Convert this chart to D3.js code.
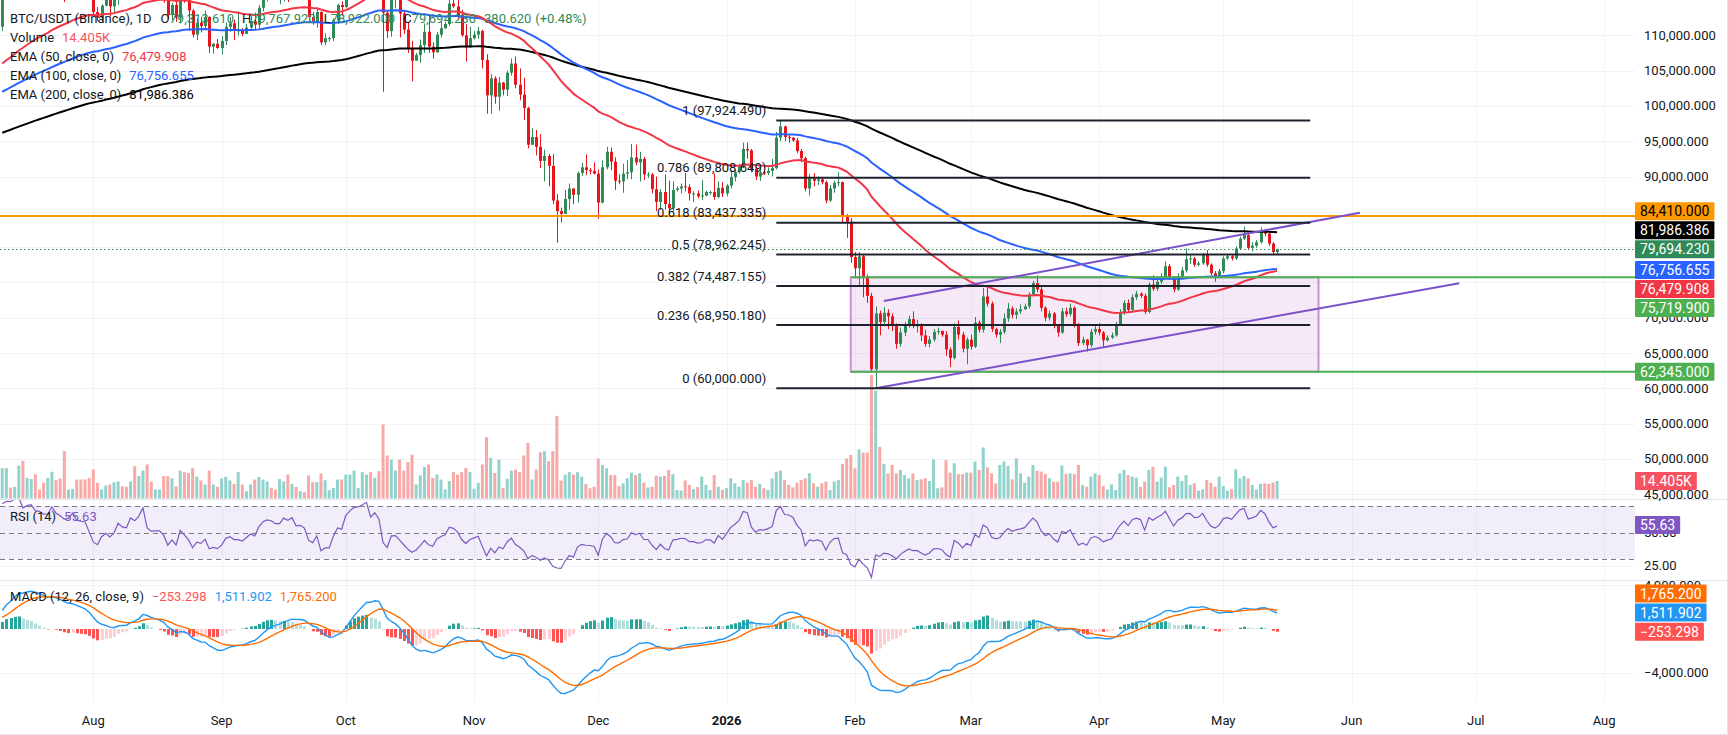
<!DOCTYPE html>
<html>
<head>
<meta charset="utf-8">
<script src="https://cdn.jsdelivr.net/npm/d3@7"></script>
<style>
  html, body { margin: 0; padding: 0; background: #fff; }
  svg { display: block; font-family: Roboto, "Noto Sans", sans-serif; }
</style>
</head>
<body>
<svg id="chart"></svg>
<script>
// daily BTC/USDT candles, 2025-07-10 .. 2026-05-14, prices in thousands
var startDay = '2025-07-10';
var firstOpen = 111.23;
var closes = [
  116.0,117.5,117.4,119.1,119.8,117.7,118.8,119.3,118.0,117.9,117.3,117.4,120.0,118.8,118.3,117.6,117.9,119.4,118.1,117.9,117.8,115.8,
  113.3,112.5,114.2,115.0,114.1,115.0,117.5,116.7,116.5,119.3,118.7,120.2,123.3,118.3,117.3,117.4,117.4,116.2,112.9,114.3,112.5,116.9,115.4,113.5,110.1,111.8,111.3,112.6,108.4,108.8,108.2,
  109.2,111.2,111.7,110.7,110.7,110.2,111.1,112.0,111.5,113.9,115.5,116.1,115.9,115.3,115.3,116.8,116.4,117.1,115.6,115.7,115.2,112.6,112.0,113.3,109.0,109.6,109.6,112.1,114.3,114.0,
  118.6,120.5,122.2,122.4,123.5,124.7,121.4,123.3,121.7,113.2,110.6,115.2,115.3,113.1,110.8,108.2,106.4,107.2,108.6,110.5,108.4,107.6,110.1,111.0,111.6,114.5,114.1,112.9,110.0,108.3,109.6,
  110.1,110.6,106.5,101.5,103.9,101.3,103.3,102.3,104.7,106.0,103.0,101.6,99.7,94.5,95.6,94.2,92.2,92.9,91.5,86.6,85.1,84.7,86.8,88.3,87.4,90.5,91.3,90.9,90.8,90.4,
  86.3,91.3,93.5,92.1,89.4,89.3,90.4,90.6,92.7,92.0,92.5,90.3,90.3,88.2,86.4,87.8,86.1,85.5,88.1,88.3,88.6,88.5,87.6,87.6,87.2,87.3,87.8,87.8,87.1,88.4,87.6,
  88.7,89.9,90.6,91.4,93.9,93.7,91.1,90.0,90.6,90.5,90.8,91.2,95.5,97.1,95.6,95.5,95.1,93.6,92.6,88.3,89.7,89.4,89.6,89.2,86.6,88.3,89.1,89.2,84.4,83.6,78.6,
  77.0,78.7,75.8,73.1,62.7,70.6,69.4,70.7,70.2,68.8,66.3,67.9,68.9,69.8,68.8,68.9,67.5,66.3,66.9,68.0,68.1,67.6,65.5,64.3,68.7,67.6,65.6,66.9,
  65.9,69.3,68.3,73.0,72.0,68.4,67.6,68.0,69.9,71.3,70.4,70.9,71.2,71.6,73.3,74.9,74.0,71.4,70.0,70.6,68.9,67.9,70.9,70.5,71.4,69.0,66.4,66.9,66.1,68.0,68.4,
  67.9,66.8,67.2,67.5,69.1,70.8,72.1,71.1,72.9,73.4,73.1,70.8,74.7,74.1,75.1,75.8,77.3,75.7,74.0,75.9,76.7,78.3,78.4,77.5,77.7,78.9,77.5,76.3,75.9,76.6,
  78.4,78.7,78.4,79.8,81.2,81.7,79.9,80.2,80.7,82.4,81.9,80.5,79.31361,79.69423
];
var highs = [
  116.9,118.9,118.0,119.5,123.2,119.9,119.8,121.0,120.8,118.6,118.8,119.7,120.2,120.0,119.5,118.5,118.3,119.8,119.8,119.3,118.8,118.9,
  116.1,114.0,114.4,115.7,115.1,115.7,117.7,117.6,117.9,119.3,122.3,120.3,123.7,124.5,119.2,117.9,118.6,117.5,116.8,114.6,114.8,117.4,117.0,115.6,113.7,112.4,112.6,113.5,112.7,108.9,109.5,
  109.9,111.8,112.6,112.2,113.4,111.0,111.6,112.9,113.2,114.3,115.6,116.3,116.4,116.1,116.8,116.9,117.3,117.9,117.4,116.3,115.8,115.4,113.3,113.9,113.4,110.3,109.8,112.4,114.5,114.8,
  118.7,121.0,123.9,122.9,125.7,126.2,125.1,124.2,123.8,122.6,113.4,115.8,116.0,115.8,113.6,111.8,109.2,107.5,109.4,111.7,112.8,109.0,110.5,112.0,111.9,115.0,116.4,116.1,113.6,111.6,111.2,
  110.6,111.2,110.8,107.3,104.5,104.2,104.1,103.4,105.0,106.7,107.0,105.3,104.0,99.9,96.8,96.6,96.0,93.8,93.2,93.2,87.5,85.6,88.1,89.0,88.3,90.7,91.9,93.1,91.2,92.0,
  91.0,92.3,94.2,94.1,92.7,90.3,91.8,92.3,94.6,94.5,93.5,92.8,90.6,90.5,90.0,88.2,90.3,89.4,89.3,88.6,89.0,90.5,88.9,87.9,88.0,89.5,88.0,88.0,90.4,89.3,89.2,
  88.9,90.9,91.0,91.8,94.8,94.8,93.9,91.3,91.5,90.8,91.3,92.5,96.3,97.924,97.2,95.9,95.6,95.5,93.9,92.8,90.4,90.5,90.0,89.8,89.4,88.8,89.4,90.6,89.3,84.7,84.1,
  79.3,79.3,79.0,76.1,73.5,71.6,71.0,71.5,71.2,70.6,69.2,68.6,69.4,70.3,70.9,69.7,69.2,68.3,67.4,68.4,68.6,68.2,68.1,65.8,69.2,69.6,68.0,67.2,
  67.6,70.1,69.6,74.2,74.2,72.3,68.6,68.4,70.6,72.1,71.6,71.3,71.9,72.0,73.6,75.2,76.0,74.4,71.6,71.0,70.8,69.1,71.4,71.4,72.0,71.6,69.3,67.3,67.0,68.4,68.9,
  69.2,68.1,67.5,67.9,69.4,71.2,72.5,72.6,73.3,73.8,73.6,73.4,75.0,76.0,75.5,76.3,78.0,77.6,75.9,76.3,77.2,79.8,79.0,78.6,78.0,79.2,79.6,77.7,76.6,76.9,
  78.7,79.0,78.9,80.1,81.5,82.9,81.9,80.7,81.0,82.8,82.6,82.1,80.7,79.76792
];
var lows = [
  110.6,115.2,116.9,117.3,118.9,115.7,116.9,117.8,116.8,117.2,116.5,116.1,116.1,117.3,117.1,114.7,117.2,117.8,117.4,116.9,115.8,115.5,
  112.7,112.0,112.0,114.1,112.7,113.3,114.3,115.9,116.3,116.5,118.1,118.0,118.9,117.2,116.8,117.2,117.2,114.6,112.3,112.1,111.9,111.7,114.6,110.6,109.7,109.3,110.4,110.9,107.5,107.4,108.1,
  107.3,108.6,110.5,109.3,110.0,109.9,110.2,110.6,110.8,110.9,113.4,114.8,115.3,115.1,114.4,114.8,114.7,116.2,115.2,115.4,115.0,112.0,111.5,111.1,108.6,108.6,109.1,109.2,111.6,112.7,
  113.9,118.4,119.3,121.6,122.1,123.1,120.6,121.1,119.7,102.0,109.6,109.8,113.8,109.7,110.2,107.5,103.5,106.4,106.1,107.5,107.5,106.7,107.5,109.7,110.9,111.3,113.9,112.2,109.8,106.3,108.6,
  109.4,109.5,105.3,98.9,98.9,100.3,99.3,101.5,101.4,104.3,102.5,100.8,98.0,94.0,94.6,93.0,91.2,89.3,88.6,86.1,80.6,83.5,84.7,85.3,86.1,86.3,90.1,90.2,90.3,90.3,
  84.0,86.2,91.0,90.9,88.1,88.9,87.7,89.6,89.6,91.6,89.3,89.5,89.8,87.6,85.1,85.3,85.3,84.4,85.1,87.9,87.6,87.9,86.6,86.4,86.9,86.7,87.2,87.4,86.7,86.9,87.1,
  87.2,88.3,89.3,90.4,91.2,92.5,90.6,89.5,89.4,90.2,90.2,90.0,91.0,95.0,95.0,94.8,94.9,93.3,92.0,87.9,87.3,88.6,88.8,88.9,86.2,86.4,87.7,88.6,83.5,81.3,77.8,
  75.7,74.6,72.9,72.1,62.4,60.0,67.5,68.8,68.4,68.1,65.6,65.9,67.4,68.6,68.5,67.9,66.7,65.9,65.8,66.6,67.6,67.3,64.6,63.0,64.1,66.9,65.1,63.4,
  65.5,65.7,67.9,67.9,71.6,68.0,67.2,66.4,67.7,69.4,69.9,69.8,70.5,71.1,71.3,73.0,73.6,70.9,69.5,69.6,68.5,67.3,67.7,70.1,70.2,68.6,66.0,66.1,65.2,65.8,67.6,
  67.5,65.9,66.6,67.0,67.3,68.9,70.4,70.7,70.9,72.5,72.8,70.5,70.6,73.8,73.8,74.8,75.6,75.4,73.6,73.8,75.6,76.4,77.6,77.2,77.3,77.5,77.2,76.0,75.1,75.6,
  76.3,78.2,78.1,78.2,79.6,81.0,79.6,79.4,79.9,80.5,81.5,80.2,78.9,78.922
];
// volume, thousand BTC
var volumes = [
  25,25,9,9.5,27,31,17,16,20,7.4,13,17,22,15,16.5,39,7.4,8,15.6,15.6,15.6,17,
  24,13,7.4,10.7,11.5,13.4,14,10,9.6,14,26.6,18.4,23,28,14,7.4,7.4,18.4,18.4,16.5,10,23,21.7,21,25,18,14.8,11.5,23,11.5,9.6,
  16.5,17.8,14.8,12,21.7,11.5,6,11.5,15.6,17.8,15.6,14,8.8,7.4,16,14,19.7,12,9.6,6,5.2,19,13.4,13.4,20.6,15,6.9,8.8,15.6,15.6,
  19.7,19.7,23,8.8,21.7,19.7,21.7,17,22.5,61,35.4,32,23,32,23,30,36,11.5,19,26,28,17,19.7,15.6,7.4,14.3,21.7,19.7,21.7,25.2,21.7,
  8,12.9,28,50.5,33.5,21,32,8.8,16.2,23,23.9,21.7,35.4,45.8,15.6,23.9,38,39,30.7,39,68,14.8,19.7,21.7,19.7,21.7,18,12,8.4,9.7,
  33,27.6,24.9,19.3,19.3,10.3,12.5,16.6,21.2,19.3,20.8,13,9.1,9.7,18.8,18,18.5,23.4,20.1,7.1,6.6,14.8,11.2,7.7,9.4,18,11.2,7.1,19.3,9.7,7.1,
  8.5,16.6,12.5,9.7,15.2,13,15.2,9.7,12,8.5,7.1,16.6,22,22.9,15.2,11.2,9.1,13,15.2,16.6,20.8,12.5,9.7,12.5,14,7.1,14,15.2,28.4,33,35.8,
  24.9,40.5,37.8,37.8,101.6,88.7,42.6,28.4,20.7,27.6,20.7,23.5,19.3,16.6,20.7,15.2,15.8,16.6,14.4,32.3,8.4,9.2,31.7,21.3,29,20,20,21.3,
  21.3,30.4,23.5,42,25.7,20.7,12.5,27.6,30.4,26.8,15.8,33.1,20.7,13,18,27.6,22.9,22.1,20.2,16.6,13.9,13.9,27.1,20.2,20.7,20,27.6,11.1,9.7,18,20.7,
  19.3,10.3,7.5,11.6,7.1,20.7,23.5,19.3,18,17.2,9.7,13.9,23.5,26.2,13.9,17.2,26.2,9.2,11.1,18,14.4,19.3,11.1,12.5,6.5,7.5,15.2,13,9.7,18,
  10.3,6.5,7.5,24,16.6,18.5,16.6,11.1,7.5,12,12.5,12,13.2,14.405
];

// indicator state just before the first visible bar
var emaSeeds = { 50: 105600, 100: 101720, 200: 96000 };
var macdSeeds = { fast: 108600, slow: 107400, signal: 900 };
var rsiSeeds = { gain: 900, loss: 500 };

// values printed in legends / price scale
var emaLast = { 50: 76479.908, 100: 76756.655, 200: 81986.386 };
var rsiLast = 55.63;
var macdLast = { hist: -253.298, macd: 1511.902, signal: 1765.2 };

// drawings
var fibHigh = 97924.49, fibLow = 60000;
var fibLevels = [1, 0.786, 0.618, 0.5, 0.382, 0.236, 0];
var fibSpan = ['2026-01-13', '2026-05-22'];
var resistance = 84410;
var rangeTop = 75719.9, rangeBottom = 62345;
var rangeSpan = ['2026-01-31', '2026-05-24'];
var upperLine = [['2026-02-08', 72370], ['2026-06-03', 84870]];
var lowerLine = [['2026-02-06', 60000], ['2026-06-27', 74890]];

var priceTicks = d3.range(45000, 110001, 5000);
var rsiTicks = [25, 50];
var macdTicks = [-4000, 0, 4000];

// ---------------------------------------------------------------
var W = 1728, H = 735, plotW = 1635;
var dark = '#131722', upC = '#2e8b57', downC = '#e8141c';
var fmt3 = d3.format(',.3f');
var day = s => new Date(s + 'T00:00:00Z');

var t0 = day(startDay);
var bars = closes.map((c, i) => {
  var o = i ? closes[i - 1] : firstOpen;
  return {
    date: d3.utcDay.offset(t0, i),
    open: o * 1000, close: c * 1000,
    high: Math.max(highs[i], o, c) * 1000,
    low: Math.min(lows[i], o, c) * 1000,
    vol: volumes[i]
  };
});

function ema(vals, len, seed) {
  var k = 2 / (len + 1), p = seed;
  return vals.map(v => (p = p + (v - p) * k));
}
var cl = bars.map(b => b.close);
var ema50 = ema(cl, 50, emaSeeds[50]);
var ema100 = ema(cl, 100, emaSeeds[100]);
var ema200 = ema(cl, 200, emaSeeds[200]);
var fast = ema(cl, 12, macdSeeds.fast), slow = ema(cl, 26, macdSeeds.slow);
var macd = fast.map((f, i) => f - slow[i]);
var signal = ema(macd, 9, macdSeeds.signal);
var hist = macd.map((m, i) => m - signal[i]);
var ag = rsiSeeds.gain, al = rsiSeeds.loss;
var rsi = bars.map(b => {
  var ch = b.close - b.open;
  ag = (ag * 13 + Math.max(ch, 0)) / 14;
  al = (al * 13 + Math.max(-ch, 0)) / 14;
  return 100 - 100 / (1 + ag / al);
});

var x = d3.scaleUtc().domain([day('2025-08-01'), day('2026-05-01')]).range([93.3, 1223.3]);
var y = d3.scaleLinear().domain([60000, 110000]).range([388.3, 35.3]);
var yVol = d3.scaleLinear().domain([0, 100]).range([498.5, 377]);
var yRsi = d3.scaleLinear().domain([30, 70]).range([559, 506]);
var yMacd = d3.scaleLinear().domain([-4000, 4000]).range([672.6, 585.4]);

var svg = d3.select('#chart').attr('width', W).attr('height', H);
var defs = svg.append('defs');
[['clipPrice', 0, 499], ['clipRsi', 500, 80], ['clipMacd', 581, 121]].forEach(c => {
  defs.append('clipPath').attr('id', c[0]).append('rect')
    .attr('x', 0).attr('y', c[1]).attr('width', plotW).attr('height', c[2]);
});

// grid
var months = d3.utcMonth.range(day('2025-08-01'), day('2026-08-02'));
svg.append('g').selectAll('line').data(months).enter().append('line')
  .attr('x1', d => Math.round(x(d)) + 0.5).attr('x2', d => Math.round(x(d)) + 0.5)
  .attr('y1', 0).attr('y2', 702).attr('stroke', '#f0f3fa');
svg.append('g').selectAll('line').data(priceTicks).enter().append('line')
  .attr('x1', 0).attr('x2', plotW).attr('y1', d => Math.round(y(d)) + 0.5).attr('y2', d => Math.round(y(d)) + 0.5)
  .attr('stroke', '#f0f3fa');
svg.append('line').attr('x1', 0).attr('x2', plotW).attr('y1', Math.round(yRsi(25)) + 0.5).attr('y2', Math.round(yRsi(25)) + 0.5).attr('stroke', '#f0f3fa');
[-4000, 4000].forEach(v => svg.append('line').attr('x1', 0).attr('x2', plotW)
  .attr('y1', Math.round(yMacd(v)) + 0.5).attr('y2', Math.round(yMacd(v)) + 0.5).attr('stroke', '#f0f3fa'));

// price pane
var pp = svg.append('g').attr('clip-path', 'url(#clipPrice)');
pp.append('g').selectAll('rect').data(bars).enter().append('rect')
  .attr('x', d => x(d.date) - 1.5).attr('width', 3)
  .attr('y', d => yVol(d.vol)).attr('height', d => yVol(0) - yVol(d.vol))
  .attr('fill', d => d.close >= d.open ? '#92d2cc' : '#f7a9a7');

pp.append('rect').attr('x', x(day(rangeSpan[0]))).attr('y', y(rangeTop))
  .attr('width', x(day(rangeSpan[1])) - x(day(rangeSpan[0]))).attr('height', y(rangeBottom) - y(rangeTop))
  .attr('fill', 'rgba(156,39,176,0.1)').attr('stroke', '#c792d6').attr('stroke-width', 2);

var cg = pp.append('g').selectAll('g').data(bars).enter().append('g');
cg.append('line')
  .attr('x1', d => Math.round(x(d.date)) + 0.5).attr('x2', d => Math.round(x(d.date)) + 0.5)
  .attr('y1', d => y(d.high)).attr('y2', d => y(d.low))
  .attr('stroke', d => d.close >= d.open ? upC : downC);
cg.append('rect')
  .attr('x', d => Math.round(x(d.date)) - 1).attr('width', 3)
  .attr('y', d => y(Math.max(d.open, d.close)))
  .attr('height', d => Math.max(1, Math.abs(y(d.open) - y(d.close))))
  .attr('fill', d => d.close >= d.open ? upC : downC);

var eLine = arr => d3.line().x((d, i) => x(bars[i].date)).y(d => y(d))(arr);
[[ema200, '#000000'], [ema100, '#2962ff'], [ema50, '#f23645']].forEach(e => {
  pp.append('path').attr('d', eLine(e[0])).attr('fill', 'none').attr('stroke', e[1]).attr('stroke-width', 2);
});

// horizontal levels
pp.append('line').attr('x1', 0).attr('x2', plotW).attr('y1', y(resistance)).attr('y2', y(resistance))
  .attr('stroke', '#ff9800').attr('stroke-width', 2);
[rangeTop, rangeBottom].forEach(v => pp.append('line')
  .attr('x1', x(day(rangeSpan[0]))).attr('x2', plotW).attr('y1', y(v)).attr('y2', y(v))
  .attr('stroke', '#4caf50').attr('stroke-width', 2));
var last = bars[bars.length - 1], prev = bars[bars.length - 2];
pp.append('line').attr('x1', 0).attr('x2', plotW).attr('y1', Math.round(y(last.close)) + 0.5).attr('y2', Math.round(y(last.close)) + 0.5)
  .attr('stroke', upC).attr('stroke-dasharray', '1.5 2.5');

// trend lines
[upperLine, lowerLine].forEach(l => pp.append('line')
  .attr('x1', x(day(l[0][0]))).attr('y1', y(l[0][1]))
  .attr('x2', x(day(l[1][0]))).attr('y2', y(l[1][1]))
  .attr('stroke', '#7b52c9').attr('stroke-width', 2));

// fibonacci
var fg = pp.append('g');
fibLevels.forEach(lv => {
  var v = fibLow + (fibHigh - fibLow) * lv;
  fg.append('line').attr('x1', x(day(fibSpan[0]))).attr('x2', x(day(fibSpan[1])))
    .attr('y1', y(v)).attr('y2', y(v)).attr('stroke', '#1e222d').attr('stroke-width', 2);
  fg.append('text').attr('x', x(day(fibSpan[0])) - 10).attr('y', y(v) - 10)
    .attr('text-anchor', 'end').attr('dominant-baseline', 'central')
    .attr('font-size', 13).attr('fill', dark).text(lv + ' (' + fmt3(v) + ')');
});

// RSI pane
var rp = svg.append('g').attr('clip-path', 'url(#clipRsi)');
rp.append('rect').attr('x', 0).attr('width', plotW).attr('y', yRsi(70)).attr('height', yRsi(30) - yRsi(70))
  .attr('fill', 'rgba(126,87,194,0.1)');
[70, 50, 30].forEach(v => rp.append('line').attr('x1', 0).attr('x2', plotW)
  .attr('y1', Math.round(yRsi(v)) + 0.5).attr('y2', Math.round(yRsi(v)) + 0.5)
  .attr('stroke', '#787b86').attr('stroke-dasharray', '5 4'));
rp.append('path').attr('d', d3.line().x((d, i) => x(bars[i].date)).y(d => yRsi(d))(rsi))
  .attr('fill', 'none').attr('stroke', '#7e57c2').attr('stroke-width', 1.2);

// MACD pane
var mp = svg.append('g').attr('clip-path', 'url(#clipMacd)');
mp.append('g').selectAll('rect').data(hist).enter().append('rect')
  .attr('x', (d, i) => Math.round(x(bars[i].date)) - 1).attr('width', 3)
  .attr('y', d => Math.min(yMacd(0), yMacd(d))).attr('height', d => Math.abs(yMacd(d) - yMacd(0)))
  .attr('fill', (d, i) => {
    var p = i ? hist[i - 1] : d;
    if (d >= 0) return d >= p ? '#26a69a' : '#b2dfdb';
    return d <= p ? '#ff5252' : '#ffcdd2';
  });
[[macd, '#2196f3'], [signal, '#ff6d00']].forEach(m => mp.append('path')
  .attr('d', d3.line().x((d, i) => x(bars[i].date)).y(d => yMacd(d))(m[0]))
  .attr('fill', 'none').attr('stroke', m[1]).attr('stroke-width', 1.4));

// pane separators, frame
[499.5, 580.5].forEach(v => svg.append('line').attr('x1', 0).attr('x2', W).attr('y1', v).attr('y2', v).attr('stroke', '#e0e3eb'));
svg.append('line').attr('x1', W - 0.5).attr('x2', W - 0.5).attr('y1', 0).attr('y2', H).attr('stroke', '#e0e3eb');
svg.append('line').attr('x1', 0).attr('x2', W).attr('y1', H - 0.5).attr('y2', H - 0.5).attr('stroke', '#e0e3eb');

// value tags on the scale (positions first, so covered scale labels can be skipped)
function stack(tags, anchor) {
  var s = tags.slice().sort((a, b) => a.y - b.y), ai = s.indexOf(anchor);
  s[ai].ty = s[ai].y;
  for (var i = ai + 1; i < s.length; i++) s[i].ty = Math.max(s[i].y, s[i - 1].ty + 19);
  for (var j = ai - 1; j >= 0; j--) s[j].ty = Math.min(s[j].y, s[j + 1].ty - 19);
  return s;
}
var lastTag = { y: y(last.close), text: fmt3(last.close), bg: upC };
var priceTags = stack([
  { y: y(resistance), text: fmt3(resistance), bg: '#ff9800', fg: '#000' },
  { y: y(emaLast[200]), text: fmt3(emaLast[200]), bg: '#000' },
  lastTag,
  { y: y(emaLast[100]), text: fmt3(emaLast[100]), bg: '#2962ff' },
  { y: y(emaLast[50]), text: fmt3(emaLast[50]), bg: '#f23645' },
  { y: y(rangeTop), text: fmt3(rangeTop), bg: '#4caf50' },
  { y: y(rangeBottom), text: fmt3(rangeBottom), bg: '#4caf50' }
], lastTag);
var volTxt = d3.format('.3f')(last.vol) + 'K';
var volTag = { ty: yVol(last.vol), text: volTxt, bg: '#f7525f' };
var rsiTag = { ty: yRsi(rsiLast), text: d3.format('.2f')(rsiLast), bg: '#7e57c2' };
var macdTag = { y: yMacd(macdLast.macd), text: fmt3(macdLast.macd), bg: '#2196f3' };
var macdTags = stack([
  { y: yMacd(macdLast.signal), text: fmt3(macdLast.signal), bg: '#ff6d00' },
  macdTag,
  { y: yMacd(macdLast.hist), text: fmt3(macdLast.hist), bg: '#ff5252' }
], macdTag);
var allTags = priceTags.concat([volTag, rsiTag], macdTags);
var covered = yy => allTags.some(t => Math.abs(t.ty - yy) < 7);

// axis labels
var ax = svg.append('g').attr('font-size', 13).attr('fill', dark).attr('dominant-baseline', 'central');
priceTicks.filter(v => !covered(y(v))).forEach(v => ax.append('text').attr('x', 1644).attr('y', y(v)).text(fmt3(v)));
rsiTicks.filter(v => !covered(yRsi(v))).forEach(v => ax.append('text').attr('x', 1644).attr('y', yRsi(v)).text(d3.format('.2f')(v)));
macdTicks.filter(v => !covered(yMacd(v))).forEach(v => ax.append('text').attr('x', 1644).attr('y', yMacd(v)).text(fmt3(v)));
months.forEach(m => ax.append('text').attr('x', x(m)).attr('y', 720).attr('text-anchor', 'middle')
  .attr('font-weight', m.getUTCMonth() === 0 ? 700 : 400)
  .text(m.getUTCMonth() === 0 ? d3.utcFormat('%Y')(m) : d3.utcFormat('%b')(m)));

function drawTag(t) {
  var g = svg.append('g');
  var r = g.append('rect').attr('x', 1635).attr('y', t.ty - 9).attr('height', 18).attr('rx', 1).attr('fill', t.bg);
  var tx = g.append('text').attr('x', 1640).attr('y', t.ty).attr('dominant-baseline', 'central')
    .attr('font-size', 14).attr('fill', t.fg || '#fff').text(t.text);
  r.attr('width', tx.node().getComputedTextLength() + 10);
}
allTags.forEach(drawTag);

// legends
function legend(yy, parts) {
  var t = svg.append('text').attr('x', 10).attr('y', yy).attr('font-size', 13).attr('dominant-baseline', 'central');
  parts.forEach(p => t.append('tspan').attr('dx', p[2] || 0).attr('fill', p[1]).text(p[0]));
}
var chg = last.close - prev.close;
legend(17.5, [
  ['BTC/USDT (Binance), 1D', dark],
  ['O', dark, 9], [fmt3(last.open), upC],
  ['H', dark, 8], [fmt3(last.high), upC],
  ['L', dark, 8], [fmt3(last.low), upC],
  ['C', dark, 8], [fmt3(last.close), upC],
  [fmt3(chg), upC, 8], ['(+' + d3.format('.2f')(chg / prev.close * 100) + '%)', upC, 4]
]);
legend(36.5, [['Volume', dark], [volTxt, '#f7525f', 8]]);
legend(55.5, [['EMA (50, close, 0)', dark], [fmt3(emaLast[50]), '#f23645', 8]]);
legend(74.5, [['EMA (100, close, 0)', dark], [fmt3(emaLast[100]), '#2962ff', 8]]);
legend(93.5, [['EMA (200, close, 0)', dark], [fmt3(emaLast[200]), '#000', 8]]);
legend(516, [['RSI (14)', dark], [d3.format('.2f')(rsiLast), '#7e57c2', 8]]);
legend(596, [['MACD (12, 26, close, 9)', dark],
  [fmt3(macdLast.hist), '#ff5252', 8], [fmt3(macdLast.macd), '#2196f3', 8], [fmt3(macdLast.signal), '#ff6d00', 8]]);
</script>
</body>
</html>
